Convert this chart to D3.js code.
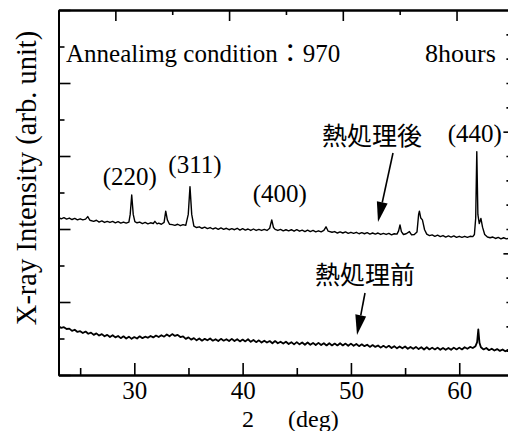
<!DOCTYPE html>
<html>
<head>
<meta charset="utf-8">
<script src="https://cdn.jsdelivr.net/npm/d3@7"></script>
<style>
  body { margin: 0; background: #fff; }
  svg { display: block; }
</style>
</head>
<body>
<div class="xrdChart"></div>
<script>
// 2θ (deg), intensity (arb.)
const afterAnneal = [
  [23.00,432],[23.25,428],[23.50,431],[23.75,427],[24.00,430],[24.25,426],[24.50,429],[24.75,425],
  [25.00,428],[25.25,425],[25.50,427],[25.70,434],[25.90,424],[26.25,421],[26.50,424],[26.75,419],
  [27.00,422],[27.25,418],[27.50,421],[27.75,418],[28.00,421],[28.25,417],[28.50,420],[28.75,416],
  [29.00,419],[29.25,416],[29.50,419],[29.62,440],[29.76,493],[29.90,440],[30.05,420],[30.25,417],
  [30.50,419],[30.75,415],[31.00,418],[31.25,414],[31.50,417],[31.75,415],[31.90,421],[32.10,414],
  [32.25,416],[32.50,413],[32.75,418],[32.90,449],[33.05,425],[33.25,413],[33.50,412],[33.75,410],
  [34.00,413],[34.25,409],[34.50,412],[34.75,410],[34.98,440],[35.14,516],[35.30,440],[35.50,408],
  [35.75,404],[36.00,406],[36.25,402],[36.50,405],[36.75,401],[37.00,404],[37.25,400],[37.50,403],
  [37.75,399],[38.00,403],[38.25,399],[38.50,402],[38.75,398],[39.00,401],[39.25,398],[39.50,402],
  [39.75,397],[40.00,401],[40.25,397],[40.50,400],[40.75,396],[41.00,400],[41.25,396],[41.50,399],
  [41.75,396],[42.00,399],[42.25,396],[42.50,402],[42.69,425],[42.85,404],[43.00,399],[43.25,396],
  [43.50,399],[43.75,395],[44.00,398],[44.25,395],[44.50,398],[44.75,394],[45.00,398],[45.25,394],
  [45.50,397],[45.75,393],[46.00,397],[46.25,393],[46.50,396],[46.75,392],[47.00,395],[47.25,392],
  [47.50,396],[47.70,406],[47.90,394],[48.25,391],[48.50,393],[48.75,389],[49.00,392],[49.25,389],
  [49.50,392],[49.75,388],[50.00,391],[50.25,388],[50.50,391],[50.75,387],[51.00,390],[51.25,387],
  [51.50,390],[51.75,386],[52.00,389],[52.25,386],[52.50,389],[52.75,385],[53.00,388],[53.25,385],
  [53.50,388],[53.75,384],[54.00,387],[54.25,386],[54.40,395],[54.53,411],[54.66,393],[54.85,385],
  [55.10,387],[55.40,393],[55.60,384],[55.85,385],[56.10,392],[56.25,440],[56.32,449],[56.45,430],
  [56.60,425],[56.80,398],[57.00,386],[57.25,382],[57.50,384],[57.75,380],[58.00,383],[58.25,379],
  [58.50,382],[58.75,378],[59.00,381],[59.25,378],[59.50,381],[59.75,377],[60.00,380],[60.25,377],
  [60.50,380],[60.75,377],[61.00,380],[61.25,379],[61.40,385],[61.52,430],[61.62,612],[61.72,440],
  [61.85,415],[62.00,429],[62.15,405],[62.35,385],[62.60,378],[62.85,376],[63.10,378],[63.35,374],
  [63.60,377],[63.85,373],[64.10,376],[64.35,373],[64.60,375],[64.85,372],[65.00,374]
];

const beforeAnneal = [
  [23.00,134],[23.25,129],[23.50,131],[23.75,126],[24.00,127],[24.25,121],[24.50,124],[24.75,118],
  [25.00,120],[25.25,115],[25.50,119],[25.75,113],[26.00,116],[26.25,110],[26.50,114],[26.75,108],
  [27.00,112],[27.25,106],[27.50,110],[27.75,104],[28.00,109],[28.25,103],[28.50,107],[28.75,101],
  [29.00,106],[29.25,100],[29.50,105],[29.75,99],[30.00,104],[30.25,100],[30.50,106],[30.75,101],
  [31.00,105],[31.25,102],[31.50,107],[31.75,103],[32.00,108],[32.25,104],[32.50,109],[32.75,105],
  [33.00,111],[33.25,106],[33.50,112],[33.75,107],[34.00,110],[34.25,104],[34.50,106],[34.75,99],
  [35.00,103],[35.25,97],[35.50,101],[35.75,95],[36.00,100],[36.25,94],[36.50,99],[36.75,95],
  [37.00,100],[37.25,94],[37.50,98],[37.75,93],[38.00,99],[38.25,94],[38.50,98],[38.75,93],
  [39.00,99],[39.25,93],[39.50,98],[39.75,92],[40.00,97],[40.25,92],[40.50,98],[40.75,91],
  [41.00,96],[41.25,90],[41.50,95],[41.75,89],[42.00,94],[42.25,89],[42.50,93],[42.75,87],
  [43.00,93],[43.25,87],[43.50,91],[43.75,86],[44.00,91],[44.25,85],[44.50,90],[44.75,84],
  [45.00,90],[45.25,84],[45.50,89],[45.75,83],[46.00,89],[46.25,83],[46.50,88],[46.75,82],
  [47.00,88],[47.25,82],[47.50,87],[47.75,81],[48.00,87],[48.25,81],[48.50,86],[48.75,81],
  [49.00,87],[49.25,81],[49.50,86],[49.75,80],[50.00,86],[50.25,80],[50.50,85],[50.75,79],
  [51.00,84],[51.25,79],[51.50,83],[51.75,77],[52.00,82],[52.25,77],[52.50,81],[52.75,75],
  [53.00,80],[53.25,75],[53.50,80],[53.75,74],[54.00,79],[54.25,73],[54.50,78],[54.75,73],
  [55.00,78],[55.25,72],[55.50,77],[55.75,72],[56.00,77],[56.25,71],[56.50,76],[56.75,70],
  [57.00,76],[57.25,70],[57.50,75],[57.75,70],[58.00,75],[58.25,69],[58.50,74],[58.75,69],
  [59.00,74],[59.25,69],[59.50,75],[59.75,70],[60.00,75],[60.25,70],[60.50,76],[60.75,72],
  [61.00,77],[61.25,74],[61.50,79],[61.65,90],[61.76,125],[61.87,88],[62.00,76],[62.25,70],
  [62.50,74],[62.75,68],[63.00,72],[63.25,67],[63.50,71],[63.75,66],[64.00,70],[64.25,65],
  [64.50,69],[64.75,64],[65.00,67]
];

const xMajorTicks = [30, 40, 50, 60];
const xMinorTicks = [25, 35, 45, 55, 65];
const yMajorTicks = [0, 200, 400, 600, 800, 1000];
const yMinorTicks = [100, 300, 500, 700, 900];
const peakNames = ['(220)', '(311)', '(400)', '(440)'];
const peakAngles = [29.76, 35.14, 42.69, 61.62];
const sampleNames = ['熱処理後', '熱処理前'];

const width = 508;
const height = 431;
const SERIF = '"Liberation Serif"';
const JP = '"Noto Sans CJK JP"';

const svg = d3
  .select('.xrdChart')
  .append('svg')
  .attr('width', width)
  .attr('height', height);

const x = d3.scaleLinear().domain([23, 65]).range([58.5, 513.4]);
const y = d3.scaleLinear().domain([0, 1000]).range([375, 10]);
// frame top / right are divided evenly, not tied to the data
const xTop = d3.scaleLinear().domain([0, 8]).range([58.5, 513.4]);
const yRight = d3.scaleLinear().domain([0, 15]).range([375, 10]);

function styleAxis(g) {
  g.selectAll('path').attr('stroke', '#000').attr('stroke-width', 2);
  g.selectAll('line').attr('stroke', '#000').attr('stroke-width', 1.6);
}

function addText(txt, px, py, size, family) {
  return svg.append('text')
    .attr('x', px).attr('y', py)
    .style('font-family', family || SERIF)
    .style('font-size', size + 'px')
    .attr('fill', '#000')
    .text(txt);
}

// bottom
svg.append('g')
  .attr('transform', 'translate(0,375)')
  .call(d3.axisBottom(x).tickValues(xMajorTicks).tickSize(-12).tickSizeOuter(0).tickPadding(6))
  .call(styleAxis)
  .call(g => g.selectAll('text')
    .style('font-family', SERIF)
    .style('font-size', '25px')
    .attr('fill', '#000'));
svg.append('g')
  .attr('transform', 'translate(0,375)')
  .call(d3.axisBottom(x).tickValues(xMinorTicks).tickSize(-7).tickSizeOuter(0).tickFormat(''))
  .call(styleAxis);

// left
svg.append('g')
  .attr('transform', 'translate(58.5,0)')
  .call(d3.axisLeft(y).tickValues(yMajorTicks).tickSize(-12).tickSizeOuter(0).tickFormat(''))
  .call(styleAxis);
svg.append('g')
  .attr('transform', 'translate(58.5,0)')
  .call(d3.axisLeft(y).tickValues(yMinorTicks).tickSize(-6).tickSizeOuter(0).tickFormat(''))
  .call(styleAxis);

// top
svg.append('g')
  .attr('transform', 'translate(0,10)')
  .call(d3.axisTop(xTop).tickValues([1, 3, 5, 7]).tickSize(-11).tickSizeOuter(0).tickFormat(''))
  .call(styleAxis);
svg.append('g')
  .attr('transform', 'translate(0,10)')
  .call(d3.axisTop(xTop).tickValues([2, 4, 6]).tickSize(-5).tickSizeOuter(0).tickFormat(''))
  .call(styleAxis);

// right
svg.append('g')
  .attr('transform', 'translate(513.4,0)')
  .call(d3.axisRight(yRight).tickValues([5, 10]).tickSize(-10).tickSizeOuter(0).tickFormat(''))
  .call(styleAxis);
svg.append('g')
  .attr('transform', 'translate(513.4,0)')
  .call(d3.axisRight(yRight).tickValues([1, 2, 3, 4, 6, 7, 8, 9, 11, 12, 13, 14]).tickSize(-7).tickSizeOuter(0).tickFormat(''))
  .call(styleAxis);

// patterns
const line = d3.line().x(d => x(d[0])).y(d => y(d[1]));

svg.append('path')
  .datum(afterAnneal)
  .attr('d', line)
  .attr('fill', 'none')
  .attr('stroke', '#000')
  .attr('stroke-width', 1.4)
  .attr('stroke-linejoin', 'round');

svg.append('path')
  .datum(beforeAnneal)
  .attr('d', line)
  .attr('fill', 'none')
  .attr('stroke', '#000')
  .attr('stroke-width', 1.8)
  .attr('stroke-linejoin', 'round');

// peak labels
const peakOffsets = [[-2, 185], [5, 173], [8, 202], [-2, 142]];
peakNames.forEach((d, i) => {
  addText(d, x(peakAngles[i]) + peakOffsets[i][0], peakOffsets[i][1], 25)
    .attr('text-anchor', 'middle');
});

// sample labels + arrows
addText(sampleNames[0], 322, 145, 25, JP);
addText(sampleNames[1], 315, 284, 25, JP);

function arrow(x1, y1, x2, y2) {
  const ang = Math.atan2(y2 - y1, x2 - x1);
  const len = 20, half = 5.5;
  const bx = x2 - len * Math.cos(ang), by = y2 - len * Math.sin(ang);
  svg.append('line')
    .attr('x1', x1).attr('y1', y1).attr('x2', bx).attr('y2', by)
    .attr('stroke', '#000').attr('stroke-width', 1.6);
  svg.append('path')
    .attr('d', `M${x2},${y2}L${bx + half * Math.sin(ang)},${by - half * Math.cos(ang)}L${bx - half * Math.sin(ang)},${by + half * Math.cos(ang)}Z`)
    .attr('fill', '#000');
}
arrow(393, 153, 378, 222);
arrow(365, 293, 357, 335);

// condition text: one text, mixed fonts for the full-width colon
const cond = svg.append('text')
  .attr('x', 66).attr('y', 62)
  .style('font-family', SERIF)
  .style('font-size', '25px')
  .attr('fill', '#000');
cond.append('tspan').text('Annealimg condition');
cond.append('tspan').style('font-family', JP).text('：');
cond.append('tspan').text('970');
addText('8hours', 425, 62, 26);

// axis titles
addText('2', 248, 427, 24).attr('text-anchor', 'middle');
addText('(deg)', 288, 427, 24);

addText('X-ray Intensity (arb. unit)', 0, 0, 28.5)
  .attr('text-anchor', 'middle')
  .attr('transform', 'translate(36,178) rotate(-90)');
</script>
</body>
</html>
